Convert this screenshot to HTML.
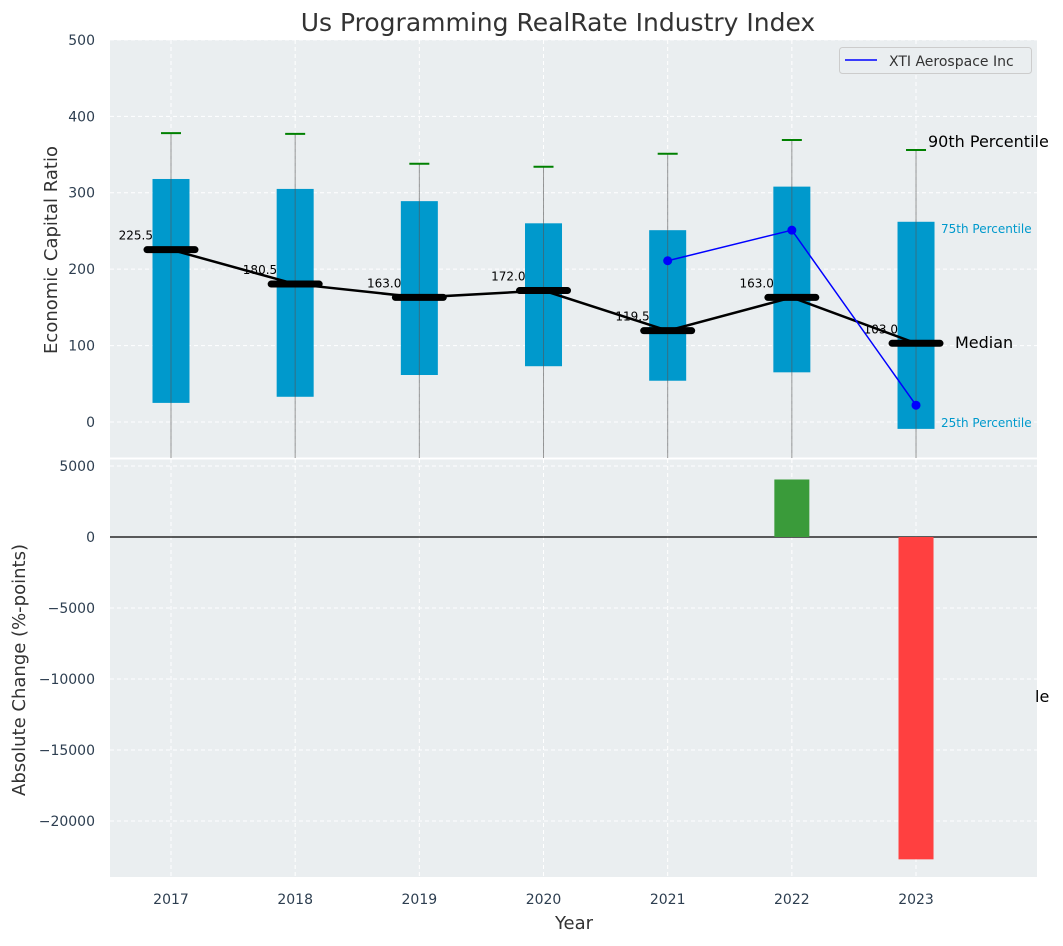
<!DOCTYPE html>
<html><head><meta charset="utf-8"><style>
body{margin:0;background:#fff;font-family:"DejaVu Sans","Liberation Sans",sans-serif}
svg text{font-family:"DejaVu Sans","Liberation Sans",sans-serif}
</style></head><body>
<svg id="c" width="1063" height="942" xmlns="http://www.w3.org/2000/svg"></svg>
<script>
const years=[2017,2018,2019,2020,2021,2022,2023];
const q1=[25,33,61.5,73,54,65,-9];
const q3=[318,305,289,260,251,308,262];
const whiskTop=[378,377,338,334,351,369,356];
const whiskBot=[-60,-60,-60,-60,-60,-60,-60];
const medians=[225.5,180.5,163.0,172.0,119.5,163.0,103.0];
const xtiYears=[2021,2022,2023];
const xtiVals=[211,251,22];
const changeYears=[2022,2023];
const changeVals=[4050,-22700];
const topTicks=[0,100,200,300,400,500];
const botTicks=[5000,0,-5000,-10000,-15000,-20000];

const NS="http://www.w3.org/2000/svg";
const svg=document.getElementById('c');
function el(t,a,p){const e=document.createElementNS(NS,t);for(const k in a)e.setAttribute(k,a[k]);(p||svg).appendChild(e);return e;}
const X=v=>171+(v-2017)*124.17;
const Y1=v=>422-v*0.7642;
const Y2=v=>537-v*0.0142;
const fmt=v=>v<0?'\u2212'+Math.abs(v):String(v);
let r=el('rect',{x:110,y:40,width:927,height:418,fill:'#eaeef0'});

r=el('rect',{x:110,y:459,width:927,height:418,fill:'#eaeef0'});

el('line',{x1:110,x2:1037,y1:458.5,y2:458.5,stroke:'#fff','stroke-width':2});
years.forEach(y=>{
  el('line',{x1:X(y),x2:X(y),y1:40,y2:458,stroke:'#fff','stroke-dasharray':'4,3','stroke-width':1});
  el('line',{x1:X(y),x2:X(y),y1:459,y2:877,stroke:'#fff','stroke-dasharray':'4,3','stroke-width':1});
  const t=el('text',{x:X(y),y:904,'text-anchor':'middle','font-size':14,fill:'#2d3e50'});t.textContent=y;
  
});
topTicks.forEach(v=>{
  el('line',{x1:110,x2:1037,y1:Y1(v),y2:Y1(v),stroke:'#fff','stroke-dasharray':'4,3'});
  const t=el('text',{x:95,y:Y1(v)+5,'text-anchor':'end','font-size':14,fill:'#2d3e50'});t.textContent=fmt(v);
  
});
botTicks.forEach(v=>{
  el('line',{x1:110,x2:1037,y1:Y2(v),y2:Y2(v),stroke:'#fff','stroke-dasharray':'4,3'});
  const t=el('text',{x:95,y:Y2(v)+5,'text-anchor':'end','font-size':14,fill:'#2d3e50'});t.textContent=fmt(v);
  
});
const defs=el('defs',{});const cp=el('clipPath',{id:'tc'},defs);el('rect',{x:110,y:40,width:927,height:418},cp);
const g=el('g',{'clip-path':'url(#tc)'});
years.forEach((y,i)=>{
  const b=el('rect',{x:X(y)-18.5,y:Y1(q3[i]),width:37,height:Y1(q1[i])-Y1(q3[i]),fill:'#0099cc'},g);
  
  el('line',{x1:X(y),x2:X(y),y1:Y1(whiskTop[i]),y2:Y1(whiskBot[i]),stroke:'#555','stroke-opacity':0.6,'stroke-width':1},g);
  el('line',{x1:X(y)-10,x2:X(y)+10,y1:Y1(whiskTop[i]),y2:Y1(whiskTop[i]),stroke:'green','stroke-width':2},g);
});
el('polyline',{points:years.map((y,i)=>X(y)+','+Y1(medians[i])).join(' '),fill:'none',stroke:'#000','stroke-width':2.5},g);
years.forEach((y,i)=>{
  const m=el('line',{x1:X(y)-24,x2:X(y)+24,y1:Y1(medians[i]),y2:Y1(medians[i]),stroke:'#000','stroke-width':7,'stroke-linecap':'round'},g);
  
  const t=el('text',{x:X(y)-18,y:Y1(medians[i])-10,'text-anchor':'end','font-size':12,fill:'#000'},g);t.textContent=medians[i].toFixed(1);
  
});
el('polyline',{points:xtiYears.map((y,i)=>X(y)+','+Y1(xtiVals[i])).join(' '),fill:'none',stroke:'#0000ff','stroke-width':1.5},g);
xtiYears.forEach((y,i)=>{const c=el('circle',{cx:X(y),cy:Y1(xtiVals[i]),r:4.5,fill:'#0000ff'},g);
  });
function txt(s,x,y,fs,fill,name){const t=el('text',{x:x,y:y,'font-size':fs,fill:fill});t.textContent=s;return t;}
txt('90th Percentile',928,147,16,'#000','label-90th');
txt('75th Percentile',941,233,12,'#0099cc','label-75th');
txt('Median',955,348,16,'#000','label-median');
txt('25th Percentile',941,427,12,'#0099cc','label-25th');
txt('le',1035,702,16,'#000','label-clipped');
const lg=el('g',{});
el('rect',{x:839.5,y:47.5,width:192,height:26,rx:3,fill:'#eaeef0',stroke:'#ccc'},lg);
el('line',{x1:845,x2:877,y1:60,y2:60,stroke:'#0000ff','stroke-width':1.5},lg);
const lt=el('text',{x:889,y:66,'font-size':14,fill:'#333'},lg);lt.textContent='XTI Aerospace Inc';
el('line',{x1:110,x2:1037,y1:Y2(0),y2:Y2(0),stroke:'#000','stroke-width':1.2});
changeYears.forEach((y,i)=>{const v=changeVals[i];
  const b=el('rect',{x:X(y)-17.5,y:Math.min(Y2(0),Y2(v)),width:35,height:Math.abs(Y2(v)-Y2(0)),fill:v>=0?'#3a9b3a':'#ff4040'});
  });
let t=txt('Us Programming RealRate Industry Index',558,31,25,'#333','chart-title');t.setAttribute('text-anchor','middle');
t=txt('Economic Capital Ratio',57,250,18,'#333','y-axis-title');t.setAttribute('transform','rotate(-90 57 250)');t.setAttribute('text-anchor','middle');
t=txt('Absolute Change (%-points)',25,670,18,'#333','y2-axis-title');t.setAttribute('transform','rotate(-90 25 670)');t.setAttribute('text-anchor','middle');
t=txt('Year',574,929,18,'#333','x-axis-title');t.setAttribute('text-anchor','middle');
</script>
</body></html>
